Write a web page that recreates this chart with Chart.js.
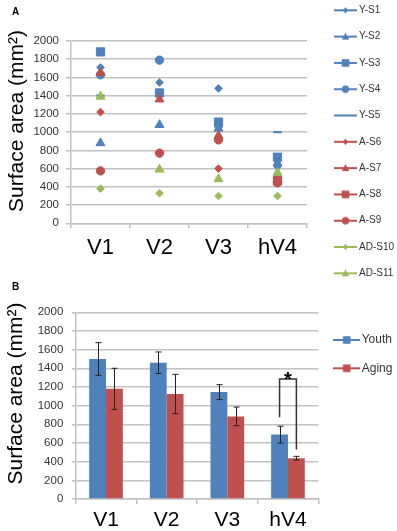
<!DOCTYPE html>
<html><head><meta charset="utf-8">
<script src="https://cdn.jsdelivr.net/npm/chart.js@4/dist/chart.umd.min.js"></script>
<style>
html,body{margin:0;padding:0;background:#fff;width:397px;height:531px;overflow:hidden;position:relative;font-family:"Liberation Sans",Arial,sans-serif;}
#wa{position:absolute;left:0;top:-11px;width:397px;height:320px;}
#wb{position:absolute;left:0;top:270px;width:397px;height:261px;}
.lbl{position:absolute;font-weight:bold;font-size:10px;line-height:12px;color:#000;}
</style></head><body>
<div id="wa"><canvas id="ca" width="397" height="320"></canvas></div>
<div id="wb"><canvas id="cb" width="397" height="261"></canvas></div>
<div class="lbl" style="left:12px;top:6px">A</div>
<div class="lbl" style="left:12px;top:281px">B</div>
<script>
// ---------- DATA ----------
const categories = ['V1', 'V2', 'V3', 'hV4'];
const seriesNames = ['Y-S1','Y-S2','Y-S3','Y-S4','Y-S5','A-S6','A-S7','A-S8','A-S9','AD-S10','AD-S11'];
const ys1  = [1710, 1545, 1480, 620];
const ys2  = [880, 1080, 1040, 660];
const ys3  = [1880, 1430, 1110, 725];
const ys4  = [1630, 1790, null, 495];
const ys5  = [1400, 1430, 1060, 1000];
const as6  = [1220, 770, 600, 440];
const as7  = [1650, 1360, 960, 480];
const as8  = [null, null, null, 465];
const as9  = [575, 770, 915, 445];
const ad10 = [380, 330, 300, 300];
const ad11 = [1390, 590, 485, 555];
const subjectValues = [ys1, ys2, ys3, ys4, ys5, as6, as7, as8, as9, ad10, ad11];

const groupNames = ['Youth', 'Aging'];
const youthMean = [1500, 1460, 1145, 690];
const youthErr  = [175, 115, 80, 90];
const agingMean = [1180, 1125, 885, 437];
const agingErr  = [220, 210, 100, 20];

const yMin = 0, yMax = 2000, yStep = 200;
const axisTitle = 'Surface area (mm²)';
// significance bracket (hV4): youth-side bottom, top, aging-side bottom
const sigCategory = 'hV4';
const sigLevels = [875, 1285, 530];
const sigMark = '*';

// ---------- STYLES ----------
const FONT = '"Liberation Sans", Arial, sans-serif';
const BLUE = '#4F81BD', RED = '#C0504D', GREEN = '#9BBB59';
const seriesColor = [BLUE,BLUE,BLUE,BLUE,BLUE,RED,RED,RED,RED,GREEN,GREEN];
const seriesShape = ['rectRot','triangle','rect','circle','line','rectRot','triangle','rect','circle','rectRot','triangle'];
const shapeRadius = {rectRot:3.8, triangle:5.2, rect:5.8, circle:4.2, line:4.2};
const GRID = '#C2C2C2';

function legendImage(color, shape, w, h, mk) {
  const c = document.createElement('canvas');
  c.width = w; c.height = h;
  const g = c.getContext('2d');
  const cx = w / 2, cy = h / 2;
  g.strokeStyle = color; g.fillStyle = color; g.lineWidth = 2;
  g.beginPath(); g.moveTo(0, cy); g.lineTo(w, cy); g.stroke();
  g.beginPath();
  if (shape === 'rect') { g.rect(cx - mk, cy - mk, 2 * mk, 2 * mk); }
  else if (shape === 'circle') { g.arc(cx, cy, mk, 0, Math.PI * 2); }
  else if (shape === 'rectRot') { g.moveTo(cx - mk, cy); g.lineTo(cx, cy - mk); g.lineTo(cx + mk, cy); g.lineTo(cx, cy + mk); g.closePath(); }
  else if (shape === 'triangle') { g.moveTo(cx, cy - mk * 1.1); g.lineTo(cx + mk, cy + mk * 0.8); g.lineTo(cx - mk, cy + mk * 0.8); g.closePath(); }
  if (shape !== 'line') g.fill();
  return c;
}
const legendMk = {rect:3.8, circle:3.7, rectRot:3, triangle:3.7, line:0};

// y-axis title drawn rotated at a fixed offset beside the plot
function axisTitlePlugin(baseX, centerY, size) {
  return {
    id: 'axisTitleText',
    afterDraw(chart) {
      const ctx = chart.ctx;
      ctx.save();
      ctx.translate(baseX, centerY);
      ctx.rotate(-Math.PI / 2);
      ctx.font = size + 'px ' + FONT;
      ctx.fillStyle = '#000';
      ctx.textAlign = 'center';
      ctx.textBaseline = 'alphabetic';
      ctx.fillText(axisTitle, 0, 0);
      ctx.restore();
    }
  };
}
const plainTick = (v) => String(v);

// ---------- CHART A ----------
const dsA = subjectValues.map((vals, i) => {
  const shape = seriesShape[i];
  return {
    label: seriesNames[i],
    data: vals,
    showLine: false,
    order: -i,
    pointStyle: shape,
    pointRadius: shapeRadius[shape],
    pointHoverRadius: shapeRadius[shape],
    pointBackgroundColor: seriesColor[i],
    pointBorderColor: seriesColor[i],
    pointBorderWidth: shape === 'line' ? 2.2 : 1,
    backgroundColor: seriesColor[i],
    borderColor: seriesColor[i]
  };
});

new Chart(document.getElementById('ca'), {
  type: 'line',
  data: { labels: categories, datasets: dsA },
  options: {
    responsive: false, animation: false,
    layout: { padding: 0 },
    scales: {
      x: {
        type: 'category', offset: true,
        grid: { display: true, offset: true, drawOnChartArea: false, drawTicks: true, tickLength: 5, color: GRID, lineWidth: 1.5 },
        border: { display: true, color: GRID, width: 1.5 },
        ticks: { color: '#000', font: { family: FONT, size: 22 }, padding: 6, maxRotation: 0, autoSkip: false },
        afterFit(s) { s.height = 85.7; }
      },
      y: {
        min: yMin, max: yMax,
        ticks: { stepSize: yStep, color: '#333', font: { family: FONT, size: 11.5 }, padding: 7, callback: plainTick },
        grid: { color: GRID, tickLength: 5, drawTicks: true, lineWidth: 1.5 },
        border: { display: true, color: GRID, width: 1.5 },
        afterFit(s) { s.width = 71; }
      },
      sp: {
        type: 'linear', position: 'right', display: true,
        grid: { display: false, drawTicks: false }, border: { display: false }, ticks: { display: false },
        afterFit(s) { s.width = 13.7; }
      }
    },
    plugins: {
      tooltip: { enabled: false },
      title: { display: true, text: '', padding: { top: 51, bottom: 0 }, font: { size: 1, lineHeight: 1 } },
      legend: {
        position: 'right', align: 'start', maxWidth: 76.3,
        labels: {
          usePointStyle: true, pointStyleWidth: 17, padding: 16.3,
          color: '#333', font: { family: FONT, size: 10 },
          generateLabels(chart) {
            return chart.data.datasets.map((d, i) => ({
              text: d.label, datasetIndex: i, hidden: false, lineWidth: 0,
              fillStyle: seriesColor[i], strokeStyle: seriesColor[i], fontColor: '#333',
              pointStyle: legendImage(seriesColor[i], seriesShape[i], 23, 10, legendMk[seriesShape[i]])
            }));
          }
        }
      }
    }
  },
  plugins: [axisTitlePlugin(23.3, 132, 21)]
});

// ---------- CHART B ----------
const groupColors = [BLUE, RED];
const groupErrs = [youthErr, agingErr];

const errorBarPlugin = {
  id: 'errorBars',
  afterDatasetsDraw(chart) {
    const ctx = chart.ctx, ys = chart.scales.y;
    ctx.save();
    ctx.strokeStyle = '#222'; ctx.lineWidth = 1;
    chart.data.datasets.forEach((d, di) => {
      const meta = chart.getDatasetMeta(di);
      meta.data.forEach((bar, i) => {
        const v = d.data[i], e = groupErrs[di][i];
        const x = Math.round(bar.x) + 0.5;
        const yt = ys.getPixelForValue(v + e), yb = ys.getPixelForValue(v - e);
        ctx.beginPath();
        ctx.moveTo(x, yt); ctx.lineTo(x, yb);
        ctx.moveTo(x - 3, yt); ctx.lineTo(x + 3, yt);
        ctx.moveTo(x - 3, yb); ctx.lineTo(x + 3, yb);
        ctx.stroke();
      });
    });
    ctx.restore();
  }
};

const bracketPlugin = {
  id: 'sigBracket',
  afterDatasetsDraw(chart) {
    const ctx = chart.ctx, ys = chart.scales.y;
    const ci = categories.indexOf(sigCategory);
    const x1 = chart.getDatasetMeta(0).data[ci].x;
    const x2 = chart.getDatasetMeta(1).data[ci].x;
    const yA = ys.getPixelForValue(sigLevels[0]);
    const yT = ys.getPixelForValue(sigLevels[1]);
    const yB = ys.getPixelForValue(sigLevels[2]);
    ctx.save();
    ctx.strokeStyle = '#333'; ctx.lineWidth = 1.5;
    ctx.beginPath();
    ctx.moveTo(x1, yA); ctx.lineTo(x1, yT); ctx.lineTo(x2, yT); ctx.lineTo(x2, yB);
    ctx.stroke();
    ctx.fillStyle = '#000';
    ctx.font = 'bold 20px ' + FONT;
    ctx.textAlign = 'center'; ctx.textBaseline = 'alphabetic';
    ctx.fillText(sigMark, (x1 + x2) / 2, yT + 7);
    ctx.restore();
  }
};

new Chart(document.getElementById('cb'), {
  type: 'bar',
  data: {
    labels: categories,
    datasets: [
      { label: groupNames[0], data: youthMean, backgroundColor: BLUE, borderWidth: 0 },
      { label: groupNames[1], data: agingMean, backgroundColor: RED, borderWidth: 0 }
    ]
  },
  options: {
    responsive: false, animation: false,
    layout: { padding: 0 },
    datasets: { bar: { categoryPercentage: 0.555, barPercentage: 1 } },
    scales: {
      x: {
        grid: { display: true, offset: true, drawOnChartArea: false, drawTicks: true, tickLength: 5, color: GRID, lineWidth: 1.5 },
        border: { display: true, color: GRID, width: 1.5 },
        ticks: { color: '#000', font: { family: FONT, size: 21 }, padding: 4, maxRotation: 0, autoSkip: false },
        afterFit(s) { s.height = 32; }
      },
      y: {
        min: yMin, max: yMax,
        ticks: { stepSize: yStep, color: '#333', font: { family: FONT, size: 11.5 }, padding: 8.4, callback: plainTick },
        grid: { color: GRID, tickLength: 4, drawTicks: true, lineWidth: 1.5 },
        border: { display: true, color: GRID, width: 1.5 },
        afterFit(s) { s.width = 75.7; }
      },
      sp: {
        type: 'linear', position: 'right', display: true,
        grid: { display: false, drawTicks: false }, border: { display: false }, ticks: { display: false },
        afterFit(s) { s.width = 3.1; }
      }
    },
    plugins: {
      tooltip: { enabled: false },
      title: { display: true, text: '', padding: { top: 41.3, bottom: 0 }, font: { size: 1, lineHeight: 1 } },
      legend: {
        position: 'right', align: 'start', maxWidth: 75.6,
        title: { display: true, text: '', padding: { top: 46.7, bottom: 0 }, font: { size: 1, lineHeight: 1 } },
        labels: {
          usePointStyle: true, pointStyleWidth: 18, padding: 16.3,
          color: '#333', font: { family: FONT, size: 12 },
          generateLabels(chart) {
            return chart.data.datasets.map((d, i) => ({
              text: d.label, datasetIndex: i, hidden: false, lineWidth: 0,
              fillStyle: groupColors[i], strokeStyle: groupColors[i], fontColor: '#333',
              pointStyle: legendImage(groupColors[i], 'rect', 27, 10, 3.8)
            }));
          }
        }
      }
    }
  },
  plugins: [errorBarPlugin, bracketPlugin, axisTitlePlugin(22.3, 123.5, 21)]
});
</script>
</body></html>
